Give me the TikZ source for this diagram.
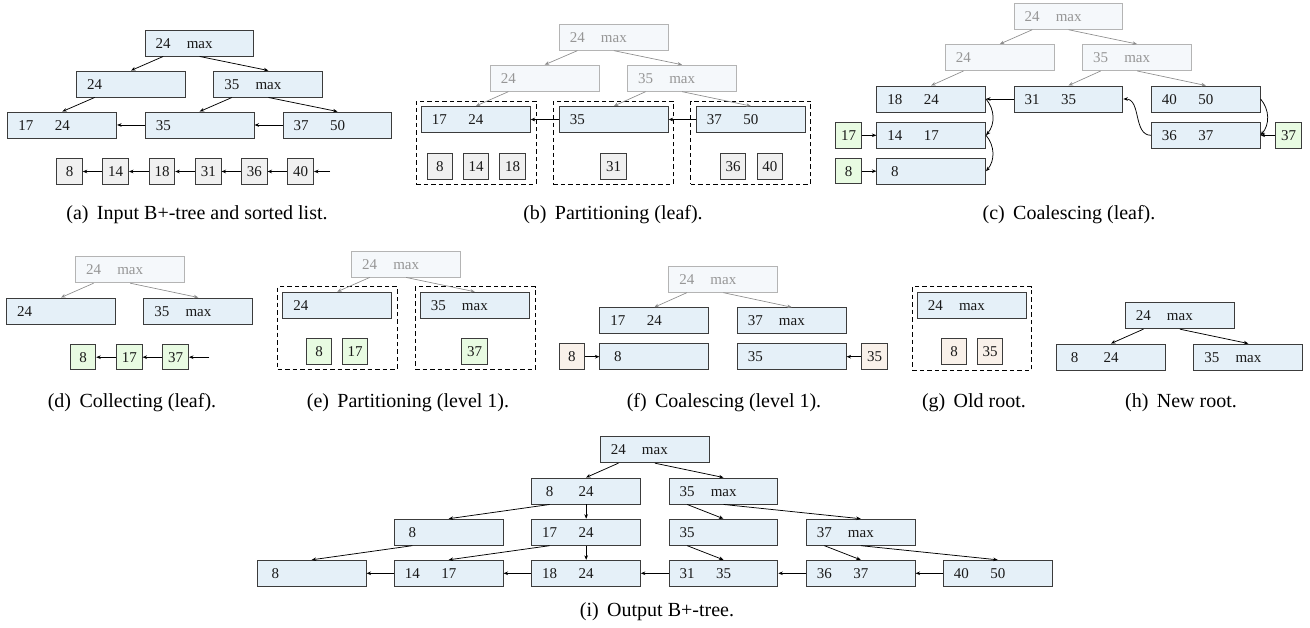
\documentclass[tikz,border=0pt]{standalone}
\usepackage{fontspec}
\setmainfont{Liberation Serif}
\usetikzlibrary{arrows.meta}
\definecolor{nodefill}{RGB}{229,240,248}
\definecolor{nodeline}{RGB}{60,60,60}
\definecolor{fadefill}{RGB}{245,248,251}
\definecolor{fadeline}{RGB}{180,180,180}
\definecolor{fadetext}{RGB}{150,150,150}
\definecolor{fadeedge}{RGB}{140,140,140}
\definecolor{sqgray}{RGB}{240,240,240}
\definecolor{sqgreen}{RGB}{232,251,226}
\definecolor{sqbeige}{RGB}{249,241,234}
\definecolor{inktext}{RGB}{25,25,25}
\tikzset{
  livebox/.style={draw=nodeline, fill=nodefill, line width=0.95pt, minimum width=108.7pt, minimum height=26pt, inner sep=0pt},
  fadebox/.style={draw=fadeline, fill=fadefill, line width=0.95pt, minimum width=108.7pt, minimum height=26pt, inner sep=0pt},
  livetxt/.style={text=inktext},
  fadetxt/.style={text=fadetext},
  keytxt/.style={inner sep=0pt, font=\fontsize{15}{18}\selectfont, text height=10.2pt, text depth=0pt},
  sqbox/.style={draw=nodeline, line width=0.95pt, minimum size=25.5pt, inner sep=0pt, text=inktext, font=\fontsize{15}{18}\selectfont, text height=10.2pt, text depth=0pt},
  link/.style={draw=black, line width=0.75pt, -{Stealth[length=4.5pt,width=3.6pt]}},
  fadelink/.style={draw=fadeedge, line width=0.65pt, -{Stealth[length=4.5pt,width=3.6pt]}},
  dashbox/.style={draw=black, line width=0.9pt, dash pattern=on 4.5pt off 3pt, inner sep=0pt},
  captxt/.style={font=\fontsize{20}{24}\selectfont, anchor=base, inner sep=0pt, text=black},
}
\newcommand\bn[5][live]{%
  \node[#1box] (#2) at (#3) {};
  \node[keytxt,#1txt] at ([xshift=18.5pt]#2.west) {#4};
  \node[keytxt,#1txt] at ([xshift=55pt]#2.west) {#5};
  \coordinate (#2-a) at ([xshift=18.5pt]#2.south west);
  \coordinate (#2-b) at ([xshift=55pt]#2.south west);
}
\begin{document}
\begin{tikzpicture}[x=1pt,y=1pt]
\fill[white] (0,0) rectangle (1310,-628);
\useasboundingbox (0,0) rectangle (1310,-628);

% ---------- (a)
\bn{a0}{199.5,-43}{24}{max}
\bn{a1}{131,-84}{24}{}
\bn{a2}{268.3,-84}{35}{max}
\bn{a3}{62.3,-125}{17}{24}
\bn{a4}{199.7,-125}{35}{}
\bn{a5}{337.5,-125}{37}{50}
\draw[link] (a0-a) -- (a1.north);
\draw[link] (a0-b) -- (a2.north);
\draw[link] (a1-a) -- (a3.north);
\draw[link] (a2-a) -- (a4.north);
\draw[link] (a2-b) -- (a5.north);
\draw[link] (a4.west) -- (a3.east);
\draw[link] (a5.west) -- (a4.east);
\node[sqbox,fill=sqgray] (as8) at (69.5,-171.5) {8};
\node[sqbox,fill=sqgray] (as14) at (115.7,-171.5) {14};
\node[sqbox,fill=sqgray] (as18) at (162,-171.5) {18};
\node[sqbox,fill=sqgray] (as31) at (208.3,-171.5) {31};
\node[sqbox,fill=sqgray] (as36) at (254.3,-171.5) {36};
\node[sqbox,fill=sqgray] (as40) at (300.7,-171.5) {40};
\coordinate (aend) at (330,-171.5);
\draw[link] (as14.west) -- (as8.east);
\draw[link] (as18.west) -- (as14.east);
\draw[link] (as31.west) -- (as18.east);
\draw[link] (as36.west) -- (as31.east);
\draw[link] (as40.west) -- (as36.east);
\draw[link] (aend) -- (as40.east);
\node[captxt] (capa) at (197,-219.5) {(a)\hspace{0.42em}Input B+-tree and sorted list.};

% ---------- (b)
\node[dashbox, minimum width=120pt, minimum height=83pt] (bp1) at (476,-142.5) {};
\node[dashbox, minimum width=120pt, minimum height=83pt] (bp2) at (613.3,-142.5) {};
\node[dashbox, minimum width=120pt, minimum height=83pt] (bp3) at (750.8,-142.5) {};
\bn[fade]{b0}{613.7,-37.2}{24}{max}
\bn[fade]{b1}{544.7,-78.2}{24}{}
\bn[fade]{b2}{682,-78.2}{35}{max}
\bn{b3}{475.8,-119.5}{17}{24}
\bn{b4}{613.8,-119.5}{35}{}
\bn{b5}{750.8,-119.5}{37}{50}
\draw[fadelink] (b0-a) -- (b1.north);
\draw[fadelink] (b0-b) -- (b2.north);
\draw[fadelink] (b1-a) -- (b3.north);
\draw[fadelink] (b2-a) -- (b4.north);
\draw[fadelink] (b2-b) -- (b5.north);
\draw[link] (b4.west) -- (b3.east);
\draw[link] (b5.west) -- (b4.east);
\node[sqbox,fill=sqgray] (bs8) at (439.8,-166.7) {8};
\node[sqbox,fill=sqgray] (bs14) at (476.2,-166.7) {14};
\node[sqbox,fill=sqgray] (bs18) at (512.5,-166.7) {18};
\node[sqbox,fill=sqgray] (bs31) at (613.7,-166.7) {31};
\node[sqbox,fill=sqgray] (bs36) at (733.2,-166.7) {36};
\node[sqbox,fill=sqgray] (bs40) at (769.8,-166.7) {40};
\node[captxt] (capb) at (613,-219.5) {(b)\hspace{0.42em}Partitioning (leaf).};

% ---------- (c)
\bn[fade]{c0}{1068.5,-16.3}{24}{max}
\bn[fade]{c1}{999.8,-57.5}{24}{}
\bn[fade]{c2}{1137,-57.5}{35}{max}
\bn{c3}{931.2,-99}{18}{24}
\bn{c4}{1068.5,-99}{31}{35}
\bn{c5}{1205.8,-99}{40}{50}
\bn{c6}{931.2,-135.3}{14}{17}
\bn{c7}{1205.8,-135.3}{36}{37}
\bn{c8}{931.2,-171.2}{8}{}
\draw[fadelink] (c0-a) -- (c1.north);
\draw[fadelink] (c0-b) -- (c2.north);
\draw[fadelink] (c1-a) -- (c3.north);
\draw[fadelink] (c2-a) -- (c4.north);
\draw[fadelink] (c2-b) -- (c5.north);
\node[sqbox,fill=sqgreen] (cs17) at (848.5,-135.3) {17};
\node[sqbox,fill=sqgreen] (cs8) at (848.5,-171.2) {8};
\node[sqbox,fill=sqgreen] (cs37) at (1288.5,-135.3) {37};
\draw[link] (c4.west) -- (c3.east);
\draw[link] (cs17.east) -- (c6.west);
\draw[link] (cs8.east) -- (c8.west);
\draw[link] (cs37.west) -- (c7.east);
\draw[link] (c3.east) to[out=-50,in=50] (c6.east);
\draw[link] (c6.east) to[out=-50,in=50] (c8.east);
\draw[link] (c5.east) to[out=-50,in=50] (c7.east);
\draw[link] (c7.west) to[out=180,in=0] (c4.east);
\node[captxt] (capc) at (1069,-219.5) {(c)\hspace{0.42em}Coalescing (leaf).};

% ---------- (d)
\bn[fade]{d0}{130,-269.7}{24}{max}
\bn{d1}{61,-311}{24}{}
\bn{d2}{198.3,-311}{35}{max}
\draw[fadelink] (d0-a) -- (d1.north);
\draw[fadelink] (d0-b) -- (d2.north);
\node[sqbox,fill=sqgreen] (ds8) at (83,-357.2) {8};
\node[sqbox,fill=sqgreen] (ds17) at (129.3,-357.2) {17};
\node[sqbox,fill=sqgreen] (ds37) at (175.7,-357.2) {37};
\coordinate (dend) at (209.3,-357.2);
\draw[link] (ds17.west) -- (ds8.east);
\draw[link] (ds37.west) -- (ds17.east);
\draw[link] (dend) -- (ds37.east);
\node[captxt] (capd) at (132,-408) {(d)\hspace{0.42em}Collecting (leaf).};

% ---------- (e)
\node[dashbox, minimum width=119.3pt, minimum height=83pt] (ep1) at (337.35,-328.2) {};
\node[dashbox, minimum width=120pt, minimum height=83pt] (ep2) at (475,-328.2) {};
\bn[fade]{e0}{406,-264}{24}{max}
\bn{e1}{337.2,-305.2}{24}{}
\bn{e2}{474.7,-305.2}{35}{max}
\draw[fadelink] (e0-a) -- (e1.north);
\draw[fadelink] (e0-b) -- (e2.north);
\node[sqbox,fill=sqgreen] (es8) at (319.2,-351.5) {8};
\node[sqbox,fill=sqgreen] (es17) at (355.2,-351.5) {17};
\node[sqbox,fill=sqgreen] (es37) at (474.5,-351.5) {37};
\node[captxt] (cape) at (408,-408) {(e)\hspace{0.42em}Partitioning (level 1).};

% ---------- (f)
\bn[fade]{f0}{723.2,-279.2}{24}{max}
\bn{f1}{654.3,-320.7}{17}{24}
\bn{f2}{791.7,-320.7}{37}{max}
\bn{f3}{654.3,-356.7}{8}{}
\bn{f4}{791.7,-356.7}{35}{}
\draw[fadelink] (f0-a) -- (f1.north);
\draw[fadelink] (f0-b) -- (f2.north);
\node[sqbox,fill=sqbeige] (fs8) at (571.8,-356.7) {8};
\node[sqbox,fill=sqbeige] (fs35) at (874.5,-356.7) {35};
\draw[link] (fs8.east) -- (f3.west);
\draw[link] (fs35.west) -- (f4.east);
\node[captxt] (capf) at (724,-408) {(f)\hspace{0.42em}Coalescing (level 1).};

% ---------- (g)
\node[dashbox, minimum width=119.4pt, minimum height=83.3pt] (gp1) at (972,-328.35) {};
\bn{g0}{971.8,-305.2}{24}{max}
\node[sqbox,fill=sqbeige] (gs8) at (954,-351.5) {8};
\node[sqbox,fill=sqbeige] (gs35) at (990.2,-351.5) {35};
\node[captxt] (capg) at (974,-408) {(g)\hspace{0.42em}Old root.};

% ---------- (h)
\bn{h0}{1179.7,-315.7}{24}{max}
\bn{h1}{1111,-357}{8}{24}
\bn{h2}{1248.3,-357}{35}{max}
\draw[link] (h0-a) -- (h1.north);
\draw[link] (h0-b) -- (h2.north);
\node[captxt] (caph) at (1181,-408) {(h)\hspace{0.42em}New root.};

% ---------- (i)
\bn{i0}{654.7,-449.7}{24}{max}
\bn{i1}{586,-491}{8}{24}
\bn{i2}{723.5,-491}{35}{max}
\bn{i3}{448.7,-532.2}{8}{}
\bn{i4}{586,-532.2}{17}{24}
\bn{i5}{723.5,-532.2}{35}{}
\bn{i6}{860.7,-532.2}{37}{max}
\bn{i7}{311.7,-573.3}{8}{}
\bn{i8}{448.7,-573.3}{14}{17}
\bn{i9}{586,-573.3}{18}{24}
\bn{i10}{723.5,-573.3}{31}{35}
\bn{i11}{860.7,-573.3}{36}{37}
\bn{i12}{997.7,-573.3}{40}{50}
\draw[link] (i0-a) -- (i1.north);
\draw[link] (i0-b) -- (i2.north);
\draw[link] (i1-a) -- (i3.north);
\draw[link] (i1-b) -- (i1-b |- i4.north);
\draw[link] (i2-a) -- (i5.north);
\draw[link] (i2-b) -- (i6.north);
\draw[link] (i3-a) -- (i7.north);
\draw[link] (i4-a) -- (i8.north);
\draw[link] (i4-b) -- (i4-b |- i9.north);
\draw[link] (i5-a) -- (i10.north);
\draw[link] (i6-a) -- (i11.north);
\draw[link] (i6-b) -- (i12.north);
\draw[link] (i8.west) -- (i7.east);
\draw[link] (i9.west) -- (i8.east);
\draw[link] (i10.west) -- (i9.east);
\draw[link] (i11.west) -- (i10.east);
\draw[link] (i12.west) -- (i11.east);
\node[captxt] (capi) at (657,-616.5) {(i)\hspace{0.42em}Output B+-tree.};
\end{tikzpicture}
\end{document}
